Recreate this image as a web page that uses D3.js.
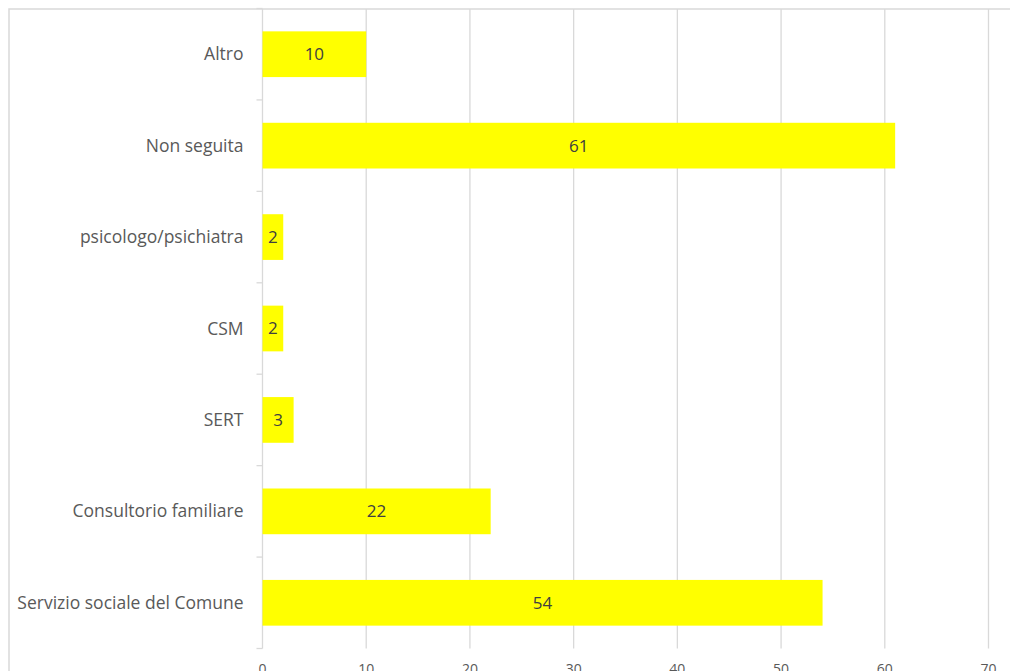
<!DOCTYPE html>
<html>
<head>
<meta charset="utf-8">
<script src="https://cdn.jsdelivr.net/npm/d3@7/dist/d3.min.js"></script>
<style>
  html, body { margin: 0; padding: 0; background: #fff; overflow: hidden; }
  svg { display: block; font-family: "Open Sans", Lato, sans-serif; }
</style>
</head>
<body>
<svg id="chart" width="1010" height="671"></svg>
<script>
// Categories listed top to bottom, with their counts
const categories = [
  "Altro",
  "Non seguita",
  "psicologo/psichiatra",
  "CSM",
  "SERT",
  "Consultorio familiare",
  "Servizio sociale del Comune"
];
const counts = [10, 61, 2, 2, 3, 22, 54];
const xTicks = [0, 10, 20, 30, 40, 50, 60, 70];

const svg = d3.select("#chart");
const plot = { left: 262.5, right: 988.5, top: 8.5, bottom: 648.5 };

// Outer frame of the chart area
svg.append("rect")
  .attr("x", 9).attr("y", 9)
  .attr("width", 1030).attr("height", 700)
  .attr("fill", "none")
  .attr("stroke", "#d9d9d9")
  .attr("stroke-width", 1.5);

const x = d3.scaleLinear().domain([0, 70]).range([plot.left, plot.right]);
const y = d3.scaleBand().domain(categories).range([plot.top, plot.bottom])
  .paddingInner(0.5).paddingOuter(0.25);

// Vertical gridlines
svg.append("g")
  .selectAll("line")
  .data(xTicks.filter(d => d > 0))
  .join("line")
  .attr("x1", d => x(d)).attr("x2", d => x(d))
  .attr("y1", 9).attr("y2", plot.bottom)
  .attr("stroke", "#d9d9d9")
  .attr("stroke-width", 1.3);

// Category axis with small outward ticks at band edges
const yAxis = svg.append("g");
yAxis.append("line")
  .attr("x1", plot.left).attr("x2", plot.left)
  .attr("y1", 9).attr("y2", plot.bottom)
  .attr("stroke", "#d9d9d9").attr("stroke-width", 1.3);
const step = y.step();
yAxis.selectAll("line.tick")
  .data(d3.range(categories.length + 1))
  .join("line")
  .attr("class", "tick")
  .attr("x1", plot.left - 6).attr("x2", plot.left)
  .attr("y1", i => plot.top + i * step)
  .attr("y2", i => plot.top + i * step)
  .attr("stroke", "#d9d9d9").attr("stroke-width", 1.3);

yAxis.selectAll("text")
  .data(categories)
  .join("text")
  .attr("x", plot.left - 19)
  .attr("y", d => y(d) + y.bandwidth() / 2)
  .attr("dy", "0.35em")
  .attr("text-anchor", "end")
  .attr("font-size", 17.5)
  .attr("fill", "#595959")
  .text(d => d);

// Bars
const rows = categories.map((c, i) => ({ c, v: counts[i] }));
svg.append("g")
  .selectAll("rect")
  .data(rows)
  .join("rect")
  .attr("x", x(0))
  .attr("y", d => y(d.c))
  .attr("width", d => x(d.v) - x(0))
  .attr("height", y.bandwidth())
  .attr("fill", "#ffff00");

// Value labels centred in each bar
svg.append("g")
  .selectAll("text")
  .data(rows)
  .join("text")
  .attr("x", d => (x(0) + x(d.v)) / 2)
  .attr("y", d => y(d.c) + y.bandwidth() / 2)
  .attr("dy", "0.35em")
  .attr("text-anchor", "middle")
  .attr("font-size", 17)
  .attr("fill", "#404040")
  .text(d => d.v);

// Value axis tick labels (sit at the lower edge of the frame)
svg.append("g")
  .selectAll("text")
  .data(xTicks)
  .join("text")
  .attr("x", d => x(d))
  .attr("y", 674)
  .attr("text-anchor", "middle")
  .attr("font-size", 14)
  .attr("fill", "#595959")
  .text(d => d);
</script>
</body>
</html>
